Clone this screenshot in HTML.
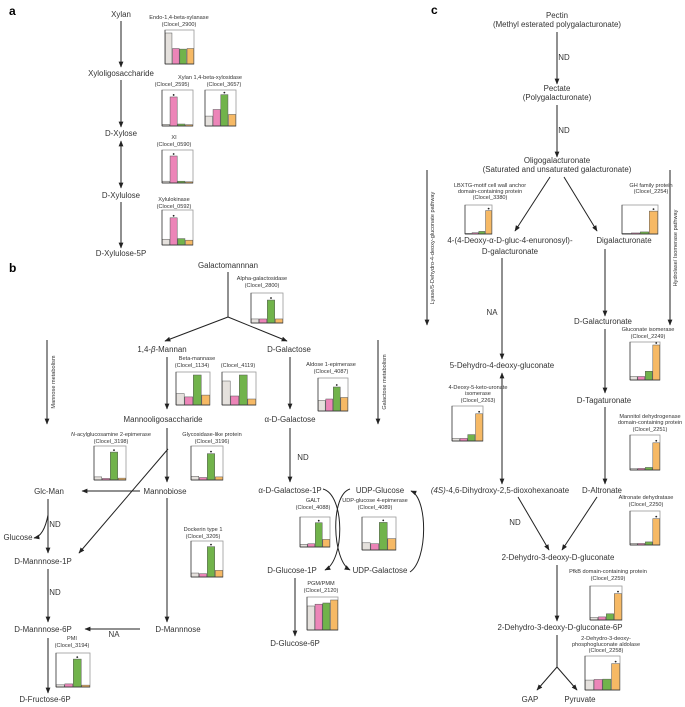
<!DOCTYPE html>
<html><head><meta charset="utf-8"><style>
html,body{margin:0;padding:0;background:#fff;}
svg{display:block;font-family:"Liberation Sans",sans-serif;}
.t{font-size:7.9px;fill:#333;text-anchor:middle;}
.e{font-size:5.6px;fill:#333;text-anchor:middle;}
.p{font-size:12px;font-weight:bold;fill:#000;}
.l{stroke:#222;stroke-width:1;fill:none;}
</style></head><body>
<svg id="s" width="685" height="707" viewBox="0 0 685 707" xmlns="http://www.w3.org/2000/svg">
<defs><marker id="a" viewBox="0 0 10 10" refX="9" refY="5" markerWidth="6" markerHeight="6" orient="auto-start-reverse"><path d="M0,1 L10,5 L0,9 z" fill="#222"/></marker></defs>

<!-- panel a -->
<text class="p" x="9" y="15">a</text>
<text class="t" x="121" y="17">Xylan</text>
<line class="l" x1="121" y1="21" x2="121" y2="67" marker-end="url(#a)"/>
<text class="t" x="121" y="76">Xyloligosaccharide</text>
<line class="l" x1="121" y1="80" x2="121" y2="127" marker-end="url(#a)"/>
<text class="t" x="121" y="136">D-Xylose</text>
<line class="l" x1="121" y1="141" x2="121" y2="188" marker-start="url(#a)" marker-end="url(#a)"/>
<text class="t" x="121" y="198">D-Xylulose</text>
<line class="l" x1="121" y1="202" x2="121" y2="248" marker-end="url(#a)"/>
<text class="t" x="121" y="256">D-Xylulose-5P</text>
<text class="e" x="179" y="19">Endo-1,4-beta-xylanase</text>
<text class="e" x="179" y="26">(Clocel_2900)</text>
<text class="e" x="210" y="79">Xylan 1,4-beta-xylosidase</text>
<text class="e" x="172" y="86">(Clocel_2595)</text>
<text class="e" x="224" y="86">(Clocel_3657)</text>
<text class="e" x="174" y="139">XI</text>
<text class="e" x="174" y="146">(Clocel_0590)</text>
<text class="e" x="174" y="201">Xylulokinase</text>
<text class="e" x="174" y="208">(Clocel_0592)</text>

<!-- panel b -->
<text class="p" x="9" y="272">b</text>
<text class="t" x="228" y="268">Galactomannnan</text>
<line class="l" x1="228" y1="272" x2="228" y2="317"/>
<line class="l" x1="228" y1="317" x2="165" y2="341" marker-end="url(#a)"/>
<line class="l" x1="228" y1="317" x2="287" y2="341" marker-end="url(#a)"/>
<text class="e" x="262" y="280">Alpha-galactosidase</text>
<text class="e" x="262" y="287">(Clocel_2800)</text>
<text class="t" x="162" y="352">1,4-<tspan font-style="italic">β</tspan>-Mannan</text>
<text class="t" x="289" y="352">D-Galactose</text>
<line class="l" x1="167" y1="357" x2="167" y2="409" marker-end="url(#a)"/>
<line class="l" x1="290" y1="357" x2="290" y2="409" marker-end="url(#a)"/>
<text class="e" x="197" y="360">Beta-mannase</text>
<text class="e" x="192" y="367">(Clocel_1134)</text>
<text class="e" x="238" y="367">(Clocel_4119)</text>
<text class="e" x="331" y="366">Aldose 1-epimerase</text>
<text class="e" x="331" y="373">(Clocel_4087)</text>
<line class="l" x1="47" y1="340" x2="47" y2="424" marker-end="url(#a)"/>
<text class="e" transform="translate(55,382) rotate(-90)">Mannose metabolism</text>
<line class="l" x1="378" y1="340" x2="378" y2="424" marker-end="url(#a)"/>
<text class="e" transform="translate(386,382) rotate(-90)">Galactose metabolism</text>
<text class="t" x="163" y="422">Mannooligosaccharide</text>
<text class="t" x="290" y="422">α-D-Galactose</text>
<text class="e" x="111" y="436"><tspan font-style="italic">N</tspan>-acylglucosamine 2-epimerase</text>
<text class="e" x="111" y="443">(Clocel_3198)</text>
<text class="e" x="212" y="436">Glycosidase-like protein</text>
<text class="e" x="212" y="443">(Clocel_3196)</text>
<line class="l" x1="167" y1="428" x2="167" y2="482" marker-end="url(#a)"/>
<line class="l" x1="168" y1="449" x2="79" y2="553" marker-end="url(#a)"/>
<line class="l" x1="290" y1="428" x2="290" y2="482" marker-end="url(#a)"/>
<text class="t" x="303" y="460">ND</text>
<text class="t" x="49" y="494">Glc-Man</text>
<text class="t" x="165" y="494">Mannobiose</text>
<line class="l" x1="140" y1="491" x2="82" y2="491" marker-end="url(#a)"/>
<line class="l" x1="48" y1="499" x2="48" y2="553" marker-end="url(#a)"/>
<path class="l" d="M48,515 Q44,536 34,538" marker-end="url(#a)"/>
<text class="t" x="55" y="527">ND</text>
<text class="t" x="18" y="540">Glucose</text>
<text class="t" x="43" y="564">D-Mannnose-1P</text>
<line class="l" x1="48" y1="569" x2="48" y2="622" marker-end="url(#a)"/>
<text class="t" x="55" y="595">ND</text>
<text class="t" x="43" y="632">D-Mannnose-6P</text>
<text class="t" x="178" y="632">D-Mannnose</text>
<line class="l" x1="140" y1="629" x2="85" y2="629" marker-end="url(#a)"/>
<text class="t" x="114" y="637">NA</text>
<line class="l" x1="167" y1="498" x2="167" y2="622" marker-end="url(#a)"/>
<text class="e" x="203" y="531">Dockerin type 1</text>
<text class="e" x="203" y="538">(Clocel_3205)</text>
<text class="e" x="72" y="640">PMI</text>
<text class="e" x="72" y="647">(Clocel_3194)</text>
<line class="l" x1="48" y1="638" x2="48" y2="693" marker-end="url(#a)"/>
<text class="t" x="45" y="702">D-Fructose-6P</text>

<text class="t" x="290" y="493">α-D-Galactose-1P</text>
<text class="t" x="380" y="493">UDP-Glucose</text>
<text class="e" x="313" y="502">GALT</text>
<text class="e" x="313" y="509">(Clocel_4088)</text>
<text class="e" x="375" y="502">UDP-glucose 4-epimerase</text>
<text class="e" x="375" y="509">(Clocel_4089)</text>
<path class="l" d="M323,489 C345,495 345,560 325,570" marker-end="url(#a)"/>
<path class="l" d="M350,489 C330,495 332,560 350,570" marker-end="url(#a)"/>
<path class="l" d="M410,572 C428,560 428,498 411,491" marker-end="url(#a)"/>
<text class="t" x="292" y="573">D-Glucose-1P</text>
<text class="t" x="380" y="573">UDP-Galactose</text>
<text class="e" x="321" y="585">PGM/PMM</text>
<text class="e" x="321" y="592">(Clocel_2120)</text>
<line class="l" x1="295" y1="578" x2="295" y2="636" marker-end="url(#a)"/>
<text class="t" x="295" y="646">D-Glucose-6P</text>

<!-- panel c -->
<text class="p" x="431" y="14">c</text>
<text class="t" x="557" y="18">Pectin</text>
<text class="t" x="557" y="27">(Methyl esterated polygalacturonate)</text>
<line class="l" x1="557" y1="32" x2="557" y2="84" marker-end="url(#a)"/>
<text class="t" x="564" y="60">ND</text>
<text class="t" x="557" y="91">Pectate</text>
<text class="t" x="557" y="100">(Polygalacturonate)</text>
<line class="l" x1="557" y1="105" x2="557" y2="157" marker-end="url(#a)"/>
<text class="t" x="564" y="133">ND</text>
<text class="t" x="557" y="163">Oligogalacturonate</text>
<text class="t" x="557" y="172">(Saturated and unsaturated galacturonate)</text>
<line class="l" x1="550" y1="177" x2="515" y2="231" marker-end="url(#a)"/>
<line class="l" x1="564" y1="177" x2="597" y2="231" marker-end="url(#a)"/>
<text class="e" x="490" y="187">LBXTG-motif cell wall anchor</text>
<text class="e" x="490" y="193">domain-containing protein</text>
<text class="e" x="490" y="199">(Clocel_3380)</text>
<text class="e" x="651" y="187">GH family protein</text>
<text class="e" x="651" y="193">(Clocel_2254)</text>
<text class="t" x="510" y="243">4-(4-Deoxy-α-D-gluc-4-enuronosyl)-</text>
<text class="t" x="510" y="254">D-galacturonate</text>
<text class="t" x="624" y="243">Digalacturonate</text>
<line class="l" x1="427" y1="170" x2="427" y2="325" marker-end="url(#a)"/>
<text class="e" transform="translate(434,248) rotate(-90)">Lyase/5-Dehydro-4-deoxy-gluconate pathway</text>
<line class="l" x1="670" y1="170" x2="670" y2="325" marker-end="url(#a)"/>
<text class="e" transform="translate(677,248) rotate(-90)">Hydrolase/ Isomerase pathway</text>
<line class="l" x1="502" y1="258" x2="502" y2="359" marker-end="url(#a)"/>
<text class="t" x="492" y="315">NA</text>
<line class="l" x1="605" y1="249" x2="605" y2="316" marker-end="url(#a)"/>
<text class="t" x="603" y="324">D-Galacturonate</text>
<text class="e" x="648" y="331">Gluconate isomerase</text>
<text class="e" x="648" y="338">(Clocel_2249)</text>
<line class="l" x1="605" y1="329" x2="605" y2="393" marker-end="url(#a)"/>
<text class="t" x="502" y="368">5-Dehydro-4-deoxy-gluconate</text>
<text class="e" x="478" y="389">4-Deoxy-5-keto-uronate</text>
<text class="e" x="478" y="395">isomerase</text>
<text class="e" x="478" y="402">(Clocel_2263)</text>
<text class="t" x="604" y="403">D-Tagaturonate</text>
<text class="e" x="650" y="418">Mannitol dehydrogenase</text>
<text class="e" x="650" y="424">domain-containing protein</text>
<text class="e" x="650" y="431">(Clocel_2251)</text>
<line class="l" x1="502" y1="373" x2="502" y2="484" marker-start="url(#a)" marker-end="url(#a)"/>
<line class="l" x1="605" y1="407" x2="605" y2="484" marker-end="url(#a)"/>
<text class="t" x="500" y="493"><tspan font-style="italic">(4S)</tspan>-4,6-Dihydroxy-2,5-dioxohexanoate</text>
<text class="t" x="602" y="493">D-Altronate</text>
<text class="e" x="646" y="499">Altronate dehydratase</text>
<text class="e" x="646" y="506">(Clocel_2250)</text>
<text class="t" x="515" y="525">ND</text>
<line class="l" x1="518" y1="497" x2="549" y2="550" marker-end="url(#a)"/>
<line class="l" x1="597" y1="497" x2="562" y2="550" marker-end="url(#a)"/>
<text class="t" x="558" y="560">2-Dehydro-3-deoxy-D-gluconate</text>
<text class="e" x="608" y="573">PfkB domain-containing protein</text>
<text class="e" x="608" y="580">(Clocel_2259)</text>
<line class="l" x1="557" y1="565" x2="557" y2="621" marker-end="url(#a)"/>
<text class="t" x="560" y="630">2-Dehydro-3-deoxy-D-gluconate-6P</text>
<text class="e" x="606" y="640">2-Dehydro-3-deoxy-</text>
<text class="e" x="606" y="646">phosphogluconate aldolase</text>
<text class="e" x="606" y="652">(Clocel_2258)</text>
<line class="l" x1="557" y1="635" x2="557" y2="667"/>
<line class="l" x1="557" y1="667" x2="537" y2="690" marker-end="url(#a)"/>
<line class="l" x1="557" y1="667" x2="577" y2="690" marker-end="url(#a)"/>
<text class="t" x="530" y="702">GAP</text>
<text class="t" x="580" y="702">Pyruvate</text>
<g id="charts"></g>
</svg>
<script>
var C=["#e5e1dd","#ec85b8","#71b34b","#f6b965"];
var charts=[
[165,30,29,34,[1,0.5,0.48,0.5],0],
[162,90,31,36,[0.05,0.88,0.06,0.04],1],
[205,90,31,36,[0.3,0.5,0.95,0.35],1],
[162,150,31,33,[0.06,0.9,0.06,0.04],1],
[162,210,31,35,[0.18,0.85,0.2,0.15],1],
[251,293,32,30,[0.15,0.15,0.85,0.15],1],
[176,372,34,33,[0.38,0.27,1,0.33],0],
[222,372,34,33,[0.8,0.3,1,0.2],0],
[318,378,30,33,[0.35,0.4,0.8,0.45],1],
[94,446,32,34,[0.1,0.05,0.9,0.06],1],
[191,446,32,34,[0.12,0.08,0.85,0.1],1],
[191,541,32,36,[0.12,0.1,0.92,0.2],1],
[56,653,34,34,[0.07,0.1,0.9,0.06],1],
[300,517,30,30,[0.1,0.12,0.9,0.28],1],
[362,517,34,33,[0.24,0.21,0.92,0.38],1],
[307,597,31,33,[0.8,0.86,0.9,1],0],
[465,205,27,29,[0.02,0.05,0.1,0.9],1],
[622,205,36,29,[0.02,0.04,0.08,0.88],1],
[630,342,30,38,[0.1,0.1,0.25,1],1],
[452,406,31,35,[0.08,0.08,0.2,0.85],1],
[630,435,30,35,[0.04,0.05,0.08,0.85],1],
[630,511,30,34,[0.05,0.05,0.1,0.85],1],
[590,586,32,34,[0.08,0.1,0.2,0.85],1],
[585,656,35,34,[0.32,0.34,0.35,0.85],1]
];
var g=document.getElementById("charts"),ns="http://www.w3.org/2000/svg";
function el(n,a){var e=document.createElementNS(ns,n);for(var k in a)e.setAttribute(k,a[k]);g.appendChild(e);return e;}
charts.forEach(function(c){
 var x=c[0],y=c[1],w=c[2],h=c[3],v=c[4];
 el("rect",{x:x,y:y,width:w,height:h,fill:"#fff",stroke:"#9a9a9a","stroke-width":0.8});
 var bw=w/4;
 for(var i=0;i<4;i++){var bh=v[i]*(h-3);
  el("rect",{x:x+i*bw+0.3,y:y+h-bh,width:bw-0.6,height:bh,fill:C[i],stroke:"#555","stroke-width":0.5});}
 el("line",{x1:x,y1:y,x2:x,y2:y+h,stroke:"#333","stroke-width":0.7});
 el("line",{x1:x,y1:y+h,x2:x+w,y2:y+h,stroke:"#333","stroke-width":0.7});
 if(c[5]){var m=0,mi=0;for(var j=0;j<4;j++)if(v[j]>m){m=v[j];mi=j;}
  el("circle",{cx:x+mi*bw+bw/2,cy:y+h-m*(h-3)-2,r:0.9,fill:"#222"});}
});
</script>
</body></html>
